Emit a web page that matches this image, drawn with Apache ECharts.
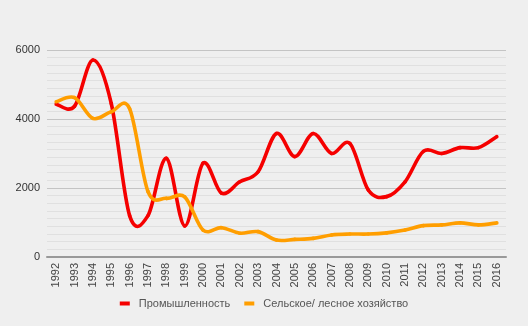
<!DOCTYPE html>
<html>
<head>
<meta charset="utf-8">
<style>
  html, body { margin: 0; padding: 0; background: #efefef; }
  #chart { width: 528px; height: 326px; }
</style>
<script src="https://cdn.jsdelivr.net/npm/echarts@6/dist/echarts.min.js"></script>
</head>
<body>
<div id="chart"></div>
<script>
const years = ['1992','1993','1994','1995','1996','1997','1998','1999','2000','2001','2002','2003','2004','2005','2006','2007','2008','2009','2010','2011','2012','2013','2014','2015','2016'];
const industry = [4430, 4370, 5710, 4450, 1200, 1200, 2860, 900, 2720, 1850, 2180, 2470, 3580, 2910, 3580, 3000, 3290, 1940, 1750, 2180, 3060, 3000, 3170, 3170, 3490];
const agriculture = [4500, 4620, 4020, 4210, 4300, 1900, 1700, 1740, 780, 850, 690, 735, 490, 510, 540, 640, 665, 665, 700, 780, 910, 930, 990, 930, 990];
const yTicks = { min: 0, max: 6000, interval: 2000 };
const seriesNames = ['Промышленность', 'Сельское/ лесное хозяйство'];
const colors = ['#f50000', '#ff9e00'];

const font = '"Liberation Sans", Arial, sans-serif';

// Smooth curve through the data points (Catmull-Rom segments placed via the axes)
function curveSeries(name, values, color) {
  const n = values.length;
  return {
    name: name,
    type: 'custom',
    data: values.map((v, i) => [i, v]),
    encode: { x: 0, y: 1 },
    itemStyle: { color: color },
    renderItem: function (params, api) {
      const i = params.dataIndex;
      if (i >= n - 1) return null;
      const pt = k => {
        const j = Math.max(0, Math.min(n - 1, k));
        return api.coord([j, values[j]]);
      };
      const p0 = pt(i - 1), p1 = pt(i), p2 = pt(i + 1), p3 = pt(i + 2);
      return {
        type: 'bezierCurve',
        shape: {
          x1: p1[0], y1: p1[1],
          x2: p2[0], y2: p2[1],
          cpx1: p1[0] + (p2[0] - p0[0]) / 6,
          cpy1: p1[1] + (p2[1] - p0[1]) / 6,
          cpx2: p2[0] - (p3[0] - p1[0]) / 6,
          cpy2: p2[1] - (p3[1] - p1[1]) / 6
        },
        style: { stroke: color, lineWidth: 3.6, fill: null, lineCap: 'round' }
      };
    }
  };
}

const chart = echarts.init(document.getElementById('chart'), null, { renderer: 'canvas' });
chart.setOption({
  backgroundColor: '#efefef',
  animation: false,
  grid: { left: 47, right: 22, top: 50, bottom: 69 },
  legend: {
    data: seriesNames,
    bottom: 12,
    left: 'center',
    icon: 'rect',
    itemWidth: 10,
    itemHeight: 4,
    itemGap: 14,
    textStyle: { fontFamily: font, fontSize: 11, color: '#555', padding: [0, 0, 0, 4] }
  },
  xAxis: {
    type: 'category',
    data: years,
    boundaryGap: true,
    axisLine: { show: true, lineStyle: { color: '#999', width: 2 } },
    axisTick: { show: false },
    axisLabel: { rotate: 90, fontFamily: font, fontSize: 11, color: '#444', margin: 6, interval: 0 }
  },
  yAxis: {
    type: 'value',
    min: yTicks.min,
    max: yTicks.max,
    interval: yTicks.interval,
    axisLine: { show: false },
    axisTick: { show: false },
    axisLabel: { fontFamily: font, fontSize: 11, color: '#333', margin: 7, formatter: v => String(v) },
    splitLine: { lineStyle: { color: '#c4c4c4', width: 1 } },
    minorTick: { show: false, splitNumber: 9 },
    minorSplitLine: { show: true, lineStyle: { color: '#e0e0e0', width: 1 } }
  },
  series: [
    curveSeries(seriesNames[0], industry, colors[0]),
    curveSeries(seriesNames[1], agriculture, colors[1])
  ]
});
</script>
</body>
</html>
